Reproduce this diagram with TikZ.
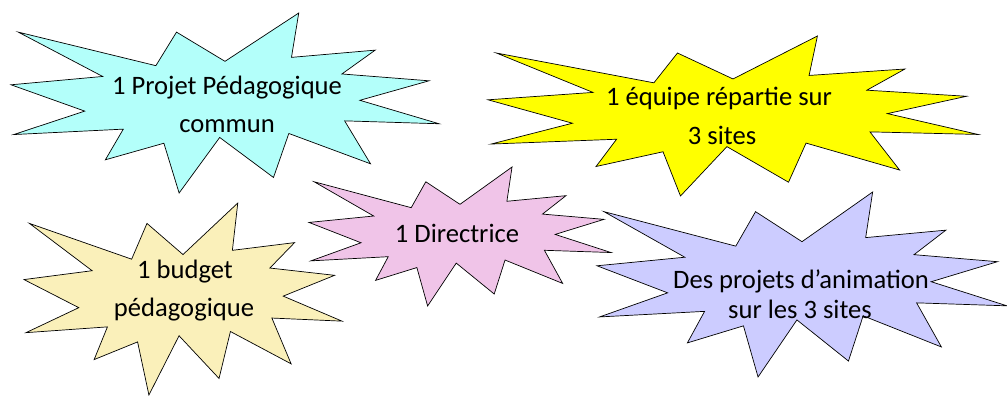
\documentclass[tikz,border=0pt]{standalone}
\usepackage{fontspec}
\setmainfont{Carlito}
\definecolor{cyanfill}{RGB}{179,255,250}
\definecolor{yellowfill}{RGB}{255,255,0}
\definecolor{beigefill}{RGB}{250,240,186}
\definecolor{pinkfill}{RGB}{240,196,232}
\definecolor{lavfill}{RGB}{204,204,255}
\tikzset{
  seal/.pic={
    \path[draw=black, line width=0.7pt, line join=miter, pic actions]
      (50,26.85) -- (67.23,0) -- (65.53,24.65) -- (85.09,20.63) -- (77.32,33.87)
      -- (97.67,37.67) -- (81.51,48.50) -- (100,61.53) -- (77.95,59.92)
      -- (84.00,83.77) -- (64.91,66.93) -- (61.33,91.38) -- (48.76,69.14)
      -- (39.28,100) -- (35.72,72.35) -- (22.05,81.56) -- (26.24,64.52)
      -- (0.63,67.53) -- (17.23,54.51) -- (0,39.88) -- (21.42,35.26)
      -- (1.71,10.63) -- (33.85,29.26) -- (38.67,10.63) -- cycle;
  },
  lbl/.style={anchor=base, inner sep=0pt, font=\fontsize{26.6}{31}\selectfont}
}
\begin{document}
\begin{tikzpicture}[x={(1pt,0)}, y={(0,-1pt)}]
\useasboundingbox (0,0) rectangle (1007,396);
% shapes
\pic[fill=cyanfill, xscale=4.28, yscale=1.80] at (11,13) {seal};
\pic[fill=yellowfill, xscale=4.90, yscale=1.60] at (488,36) {seal};
\pic[fill=beigefill, xscale=3.18, yscale=1.92] at (24,203) {seal};
\pic[fill=pinkfill, xscale=3.02, yscale=1.39] at (309,167) {seal};
\pic[fill=lavfill, xscale=4.10, yscale=1.85] at (597,192) {seal};
% labels
\node[lbl] (c1) at (227,95) {1 Projet Pédagogique};
\node[lbl] (c2) at (227,132) {commun};
\node[lbl] (y1) at (719,105) {1 équipe répartie sur};
\node[lbl] (y2) at (722,144) {3 sites};
\node[lbl] (b1) at (185,278) {1 budget};
\node[lbl] (b2) at (184,316) {pédagogique};
\node[lbl] (p1) at (457,242) {1 Directrice};
\node[lbl] (l1) at (801,288) {Des projets d’animation};
\node[lbl] (l2) at (800,318) {sur les 3 sites};
\end{tikzpicture}
\end{document}
